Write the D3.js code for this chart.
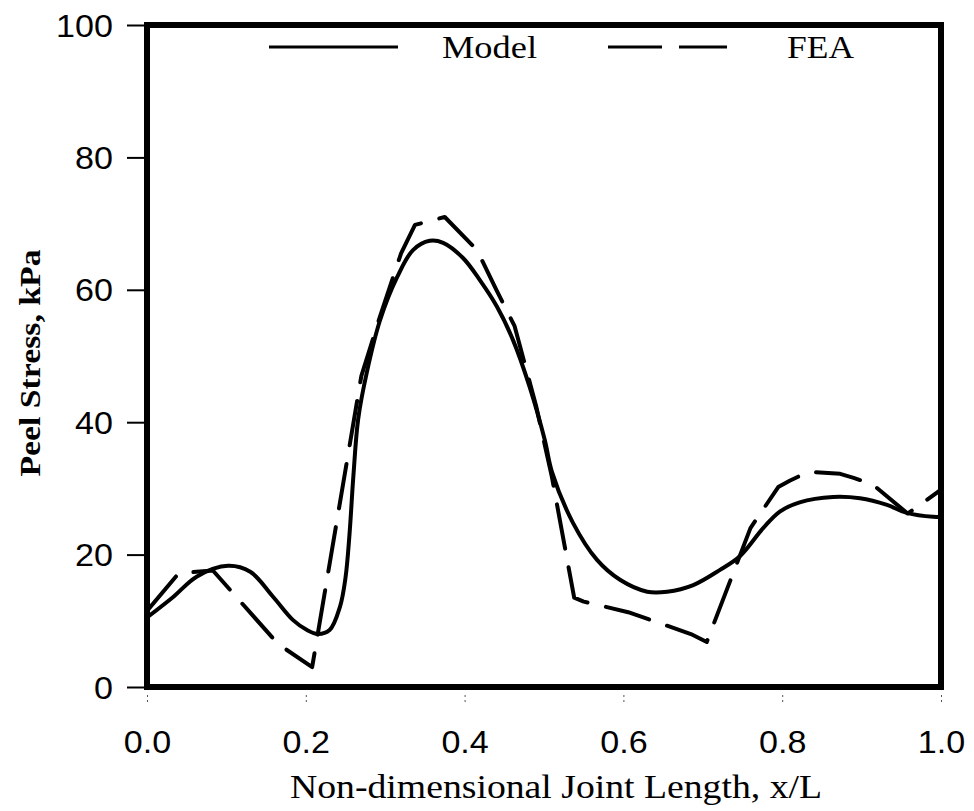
<!DOCTYPE html>
<html>
<head>
<meta charset="utf-8">
<script src="https://cdn.jsdelivr.net/npm/d3@7/dist/d3.min.js"></script>
<style>
  html, body { margin: 0; padding: 0; background: #fff; }
  svg { display: block; }
</style>
</head>
<body>
<svg id="chart" width="974" height="811"></svg>
<script>
// ---- data ----
const xTicks = [0.0, 0.2, 0.4, 0.6, 0.8, 1.0];
const yTicks = [0, 20, 40, 60, 80, 100];
const seriesNames = ["Model", "FEA"];

const modelX = [0, 0.033, 0.063, 0.102, 0.13, 0.159, 0.184, 0.2015, 0.215, 0.23, 0.243, 0.25, 0.255, 0.26, 0.266, 0.277, 0.2935, 0.315, 0.335, 0.356, 0.373, 0.398, 0.419, 0.441, 0.461, 0.482, 0.501, 0.51, 0.5365, 0.5668, 0.5957, 0.63, 0.655, 0.688, 0.7217, 0.747, 0.776, 0.797, 0.822, 0.864, 0.898, 0.932, 0.957, 0.99, 1.0];
const modelY = [10.5, 13.6, 16.7, 18.3, 17.4, 13.6, 10.1, 8.6, 8.0, 8.6, 12.1, 16.5, 23, 32, 40.5, 47.6, 55.4, 61.9, 66.0, 67.4, 67.1, 64.8, 61.5, 57.4, 52.4, 45.3, 37.3, 32.5, 24.8, 19.2, 16.2, 14.4, 14.4, 15.4, 17.7, 19.8, 24.0, 26.5, 27.9, 28.7, 28.5, 27.5, 26.3, 25.7, 25.7];

const feaX = [0, 0.04, 0.083, 0.165, 0.208, 0.27, 0.2935, 0.32, 0.3375, 0.375, 0.4156, 0.44, 0.463, 0.49, 0.51, 0.538, 0.55, 0.606, 0.685, 0.705, 0.76, 0.795, 0.81, 0.833, 0.873, 0.89, 0.914, 0.958, 1.0];
const feaY = [11.5, 17.2, 17.6, 6.5, 3.0, 47, 56, 65.5, 69.8, 71.0, 66.0, 60.0, 54.5, 42.5, 31.7, 13.5, 12.9, 11.3, 8.0, 6.8, 24.0, 30.2, 31.2, 32.5, 32.2, 31.6, 30.6, 26.2, 29.8];

// ---- layout ----
const svg = d3.select("#chart");
const L = 147, R = 941, T = 25, B = 687;
const x = d3.scaleLinear().domain([0, 1]).range([L, R]);
const y = d3.scaleLinear().domain([0, 100]).range([B, T]);

svg.append("defs").append("clipPath").attr("id", "plotclip")
  .append("rect").attr("x", L).attr("y", T).attr("width", R - L).attr("height", B - T);

const plot = svg.append("g").attr("clip-path", "url(#plotclip)");

const modelData = modelX.map((v, i) => [v, modelY[i]]);
const feaData = feaX.map((v, i) => [v, feaY[i]]);

const smooth = d3.line().x(d => x(d[0])).y(d => y(d[1])).curve(d3.curveCatmullRom.alpha(0.5));
const straight = d3.line().x(d => x(d[0])).y(d => y(d[1])).curve(d3.curveLinear);

plot.append("path").datum(modelData)
  .attr("d", smooth).attr("fill", "none").attr("stroke", "#000")
  .attr("stroke-width", 4).attr("stroke-linejoin", "round").attr("stroke-linecap", "round");

plot.append("path").datum(feaData)
  .attr("d", straight).attr("fill", "none").attr("stroke", "#000")
  .attr("stroke-width", 4).attr("stroke-dasharray", "45,19")
  .attr("stroke-linejoin", "round").attr("stroke-linecap", "round");

// ---- axes ----
const tickFont = "Liberation Sans, Arial, sans-serif";
const yAxis = d3.axisLeft(y).tickValues(yTicks).tickSize(20).tickPadding(10).tickFormat(d3.format("d"));
const gy = svg.append("g").attr("transform", `translate(${L},0)`).call(yAxis);
gy.select(".domain").remove();
gy.selectAll(".tick line").attr("stroke", "#000").attr("stroke-width", 2);
gy.selectAll(".tick text").attr("font-family", tickFont)
  .attr("font-size", 31).attr("fill", "#000").attr("x", -34).attr("dy", "0.36em");

const xAxis = d3.axisBottom(x).tickValues(xTicks).tickSize(0).tickPadding(0).tickFormat(d3.format(".1f"));
const gx = svg.append("g").attr("transform", `translate(0,${B})`).call(xAxis);
gx.select(".domain").remove();
gx.selectAll(".tick line").remove();
gx.selectAll(".tick").append("line").attr("y1", 8).attr("y2", 17)
  .attr("stroke", "#555").attr("stroke-width", 1).attr("stroke-dasharray", "2,3");
gx.selectAll(".tick text").attr("font-family", tickFont)
  .attr("font-size", 31).attr("fill", "#000").attr("y", 66).attr("dy", 0);

// frame
svg.append("rect").attr("x", L).attr("y", T).attr("width", R - L).attr("height", B - T)
  .attr("fill", "none").attr("stroke", "#000").attr("stroke-width", 6);

// slight horizontal stretch of tick labels like the scan
function stretch(sel, k) {
  sel.each(function () {
    const w = this.getComputedTextLength();
    this.setAttribute("textLength", w * k);
    this.setAttribute("lengthAdjust", "spacingAndGlyphs");
  });
}
stretch(gy.selectAll(".tick text"), 1.1);
stretch(gx.selectAll(".tick text"), 1.1);

// ---- titles ----
const serif = "Liberation Serif, Times New Roman, serif";
svg.append("text").attr("x", 556).attr("y", 798).attr("text-anchor", "middle")
  .attr("font-family", serif).attr("font-size", 33)
  .attr("textLength", 532).attr("lengthAdjust", "spacingAndGlyphs")
  .text("Non-dimensional Joint Length, x/L");

svg.append("text").attr("transform", "translate(40,363) rotate(-90)").attr("text-anchor", "middle")
  .attr("font-family", serif).attr("font-size", 30)
  .attr("font-weight", "bold")
  .attr("textLength", 227).attr("lengthAdjust", "spacingAndGlyphs")
  .text("Peel Stress, kPa");

// ---- legend ----
const leg = svg.append("g");
leg.append("line").attr("x1", 269).attr("x2", 398).attr("y1", 47).attr("y2", 47)
  .attr("stroke", "#000").attr("stroke-width", 3);
leg.append("text").attr("x", 442).attr("y", 58)
  .attr("font-family", serif).attr("font-size", 32)
  .attr("textLength", 95).attr("lengthAdjust", "spacingAndGlyphs").text(seriesNames[0]);
leg.append("line").attr("x1", 608).attr("x2", 727).attr("y1", 47).attr("y2", 47)
  .attr("stroke", "#000").attr("stroke-width", 3).attr("stroke-dasharray", "54,17");
leg.append("text").attr("x", 787).attr("y", 58)
  .attr("font-family", serif).attr("font-size", 32)
  .attr("textLength", 67).attr("lengthAdjust", "spacingAndGlyphs").text(seriesNames[1]);
</script>
</body>
</html>
